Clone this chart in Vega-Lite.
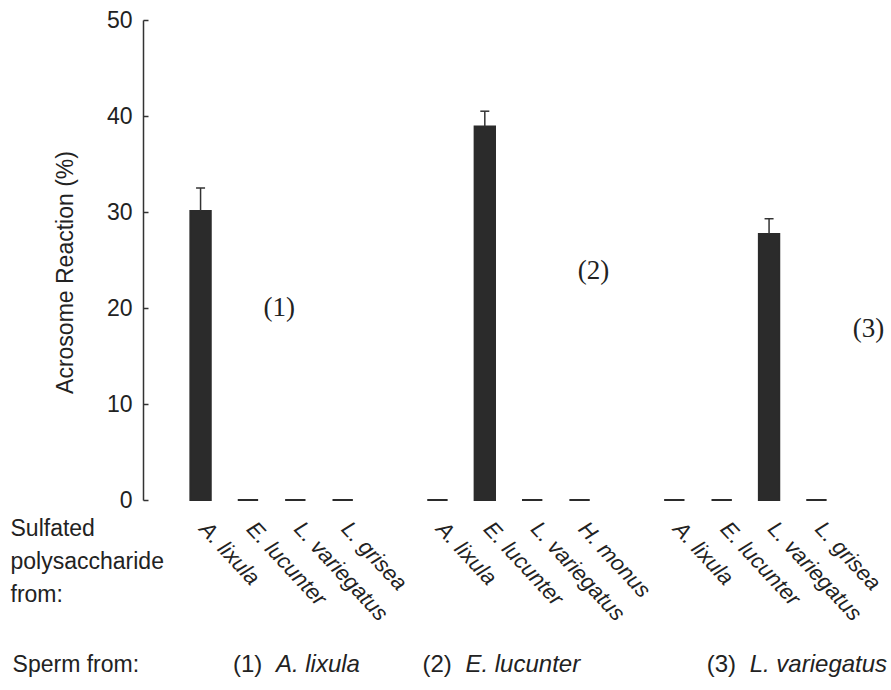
{
  "$schema": "https://vega.github.io/schema/vega-lite/v6.json",
  "width": 731,
  "height": 480,
  "autosize": {"type": "none"},
  "padding": {"left": 143, "top": 20, "right": 17, "bottom": 190},
  "background": "white",
  "config": {"view": {"stroke": null}, "font": "Liberation Sans"},
  "datasets": {
    "bars": [
      {"key": "1|A. lixula", "sperm": "A. lixula", "polysaccharide": "A. lixula", "mean": 30.1, "upper": 32.5},
      {"key": "1|E. lucunter", "sperm": "A. lixula", "polysaccharide": "E. lucunter", "mean": 0, "upper": null},
      {"key": "1|L. variegatus", "sperm": "A. lixula", "polysaccharide": "L. variegatus", "mean": 0, "upper": null},
      {"key": "1|L. grisea", "sperm": "A. lixula", "polysaccharide": "L. grisea", "mean": 0, "upper": null},
      {"key": "2|A. lixula", "sperm": "E. lucunter", "polysaccharide": "A. lixula", "mean": 0, "upper": null},
      {"key": "2|E. lucunter", "sperm": "E. lucunter", "polysaccharide": "E. lucunter", "mean": 38.9, "upper": 40.5},
      {"key": "2|L. variegatus", "sperm": "E. lucunter", "polysaccharide": "L. variegatus", "mean": 0, "upper": null},
      {"key": "2|H. monus", "sperm": "E. lucunter", "polysaccharide": "H. monus", "mean": 0, "upper": null},
      {"key": "3|A. lixula", "sperm": "L. variegatus", "polysaccharide": "A. lixula", "mean": 0, "upper": null},
      {"key": "3|E. lucunter", "sperm": "L. variegatus", "polysaccharide": "E. lucunter", "mean": 0, "upper": null},
      {"key": "3|L. variegatus", "sperm": "L. variegatus", "polysaccharide": "L. variegatus", "mean": 27.7, "upper": 29.3},
      {"key": "3|L. grisea", "sperm": "L. variegatus", "polysaccharide": "L. grisea", "mean": 0, "upper": null}
    ],
    "groups": [
      {"key": "1|E. lucunter", "num": "(1)", "species": "A. lixula"},
      {"key": "2|A. lixula", "num": "(2)", "species": "E. lucunter"},
      {"key": "3|E. lucunter", "num": "(3)", "species": "L. variegatus"}
    ]
  },
  "layer": [
    {
      "data": {"name": "bars"},
      "mark": {"type": "bar", "fill": "#2b2b2b", "stroke": "#2b2b2b", "strokeWidth": 2},
      "encoding": {
        "x": {
          "field": "key",
          "type": "nominal",
          "sort": null,
          "scale": {
            "domain": ["1|A. lixula", "1|E. lucunter", "1|L. variegatus", "1|L. grisea", "gap1",
                       "2|A. lixula", "2|E. lucunter", "2|L. variegatus", "2|H. monus", "gap2",
                       "3|A. lixula", "3|E. lucunter", "3|L. variegatus", "3|L. grisea"],
            "paddingInner": 0.57,
            "paddingOuter": 1.18
          },
          "axis": {
            "title": ["Sulfated", "polysaccharide", "from:"],
            "titleX": -133,
            "titleY": 35,
            "titleAlign": "left",
            "titleAnchor": "start",
            "titleBaseline": "alphabetic",
            "titleLineHeight": 33,
            "titleFontSize": 23,
            "titleFontWeight": "normal",
            "titleFont": "Liberation Sans",
            "titleColor": "#222",
            "titleAngle": 0,
            "domain": false,
            "ticks": false,
            "labelAngle": 47,
            "labelAlign": "left",
            "labelBaseline": "top",
            "labelPadding": 18,
            "labelOffset": 10,
            "labelFontSize": 22,
            "labelFontStyle": "italic",
            "labelFont": "Liberation Sans",
            "labelColor": "#222",
            "labelOverlap": false,
            "labelLimit": 0,
            "labelExpr": "indexof(datum.value, '|') > 0 ? substring(datum.value, indexof(datum.value, '|') + 1) : ''"
          }
        },
        "y": {
          "field": "mean",
          "type": "quantitative",
          "scale": {"domain": [0, 50]},
          "axis": {
            "title": "Acrosome Reaction (%)",
            "values": [0, 10, 20, 30, 40, 50],
            "grid": false,
            "domainColor": "#333",
            "domainWidth": 1.5,
            "tickColor": "#333",
            "tickSize": -5,
            "tickWidth": 1.5,
            "labelFontSize": 23,
            "labelFont": "Liberation Sans",
            "labelColor": "#222",
            "labelPadding": 16,
            "titleFont": "Liberation Sans",
            "titleFontSize": 23,
            "titleFontWeight": "normal",
            "titleColor": "#222",
            "titleX": -71,
            "titleY": 252,
            "titleAngle": -90,
            "titleAlign": "center",
            "titleBaseline": "alphabetic"
          }
        }
      }
    },
    {
      "data": {"name": "bars"},
      "transform": [{"filter": "isValid(datum.upper)"}],
      "mark": {"type": "rule", "stroke": "#333", "strokeWidth": 1.5},
      "encoding": {
        "x": {"field": "key", "type": "nominal"},
        "y": {"field": "mean", "type": "quantitative"},
        "y2": {"field": "upper"}
      }
    },
    {
      "data": {"name": "bars"},
      "transform": [{"filter": "isValid(datum.upper)"}],
      "mark": {"type": "tick", "orient": "horizontal", "size": 9, "thickness": 1.5, "color": "#333", "opacity": 1},
      "encoding": {
        "x": {"field": "key", "type": "nominal"},
        "y": {"field": "upper", "type": "quantitative"}
      }
    },
    {
      "data": {"values": [{"label": "Sperm from:"}]},
      "mark": {"type": "text", "align": "left", "baseline": "alphabetic", "dx": -188, "fontSize": 23, "font": "Liberation Sans", "color": "#222"},
      "encoding": {
        "x": {"datum": "1|A. lixula", "type": "nominal"},
        "y": {"datum": -17.9, "type": "quantitative"},
        "text": {"field": "label"}
      }
    },
    {
      "data": {"name": "groups"},
      "mark": {"type": "text", "align": "left", "baseline": "alphabetic", "dx": -15, "fontSize": 24, "font": "Liberation Sans", "color": "#222"},
      "encoding": {
        "x": {"field": "key", "type": "nominal"},
        "y": {"datum": -17.9, "type": "quantitative"},
        "text": {"field": "num"}
      }
    },
    {
      "data": {"name": "groups"},
      "mark": {"type": "text", "align": "left", "baseline": "alphabetic", "dx": 28, "fontSize": 24, "fontStyle": "italic", "font": "Liberation Sans", "color": "#222"},
      "encoding": {
        "x": {"field": "key", "type": "nominal"},
        "y": {"datum": -17.9, "type": "quantitative"},
        "text": {"field": "species"}
      }
    },
    {
      "data": {"values": [{"label": "(1)"}]},
      "mark": {"type": "text", "font": "Liberation Serif", "fontSize": 27, "dx": -16, "baseline": "middle", "align": "center", "color": "#222"},
      "encoding": {
        "x": {"datum": "1|L. variegatus", "type": "nominal"},
        "y": {"datum": 20, "type": "quantitative"},
        "text": {"field": "label"}
      }
    },
    {
      "data": {"values": [{"label": "(2)"}]},
      "mark": {"type": "text", "font": "Liberation Serif", "fontSize": 27, "dx": 14, "baseline": "middle", "align": "center", "color": "#222"},
      "encoding": {
        "x": {"datum": "2|H. monus", "type": "nominal"},
        "y": {"datum": 23.9, "type": "quantitative"},
        "text": {"field": "label"}
      }
    },
    {
      "data": {"values": [{"label": "(3)"}]},
      "mark": {"type": "text", "font": "Liberation Serif", "fontSize": 27, "dx": 52, "baseline": "middle", "align": "center", "color": "#222"},
      "encoding": {
        "x": {"datum": "3|L. grisea", "type": "nominal"},
        "y": {"datum": 17.8, "type": "quantitative"},
        "text": {"field": "label"}
      }
    }
  ]
}
